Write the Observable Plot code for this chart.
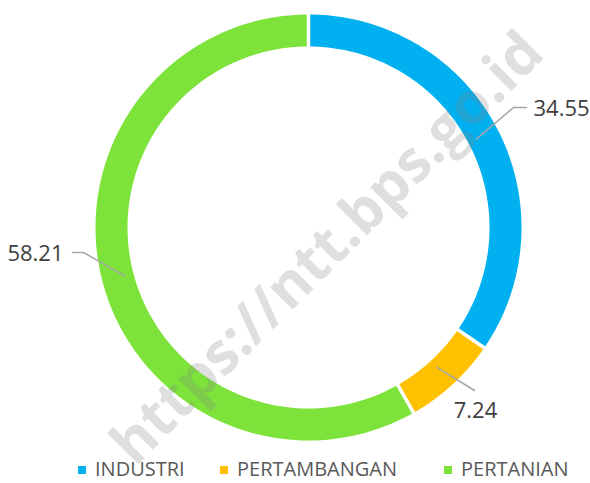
<!DOCTYPE html>
<html>
<head>
<meta charset="utf-8">
<script src="https://cdn.jsdelivr.net/npm/d3@7"></script>
<script src="https://cdn.jsdelivr.net/npm/@observablehq/plot@0.6"></script>
<style>
  html, body { margin: 0; padding: 0; background: #fff; }
  #wrap { position: relative; width: 590px; height: 483px; }
  #legend { position: absolute; left: 0; top: 0; width: 590px; height: 483px; pointer-events: none;
            font-family: "Open Sans", sans-serif; font-size: 20px; color: #595959; }
  #legend .item { position: absolute; display: flex; align-items: center; line-height: normal; white-space: nowrap; }
  #legend .sw { width: 8px; height: 8px; margin-right: 9px; position: relative; top: 1px; }
</style>
</head>
<body>
<div id="wrap"></div>
<script>
// ---- data ----
const categories = ["INDUSTRI", "PERTAMBANGAN", "PERTANIAN"];
const values = [34.55, 7.24, 58.21];
const labels = ["34.55", "7.24", "58.21"];
const colors = ["#00B0F0", "#FFC000", "#7DE33B"];
const watermark = "https://ntt.bps.go.id";

// ---- layout ----
const W = 590, H = 483;
const cx = 308, cy = 227;
const R0 = 181, R1 = 213;
const px = x => x - cx;          // pixel -> plot coords
const py = y => cy - y;
// label layout (pixels): elbow, end, text position, anchor
const labelLayout = [
  {elbow: [513, 107], end: [526, 107], text: [533, 108], anchor: "start"},
  {elbow: [474, 390], end: [474, 390], text: [475, 410], anchor: "middle"},
  {elbow: [83, 252],  end: [72, 252],  text: [63, 253],  anchor: "end"}
];
const legendLeft = [78, 220, 444];
const legendTop = 455;

const pie = d3.pie().sort(null)(values);
const N = 120;
const pt = (r, a) => ({x: r * Math.sin(a), y: r * Math.cos(a)});

const slices = pie.map((p, i) => {
  const pts = [];
  for (let k = 0; k <= N; k++) pts.push(pt(R1, p.startAngle + (p.endAngle - p.startAngle) * k / N));
  for (let k = N; k >= 0; k--) pts.push(pt(R0, p.startAngle + (p.endAngle - p.startAngle) * k / N));
  return pts.map(d => ({...d, cat: categories[i]}));
});

const seps = pie.map(p => ({a: pt(R0 - 3, p.startAngle), b: pt(R1 + 3, p.startAngle)}));

const leaders = pie.map((p, i) => {
  const mid = (p.startAngle + p.endAngle) / 2;
  const s = pt(190, mid);
  const L = labelLayout[i];
  return [s, {x: px(L.elbow[0]), y: py(L.elbow[1])}, {x: px(L.end[0]), y: py(L.end[1])}].map(d => ({...d, i}));
}).flat();

const labelData = labels.map((t, i) => ({t, x: px(labelLayout[i].text[0]), y: py(labelLayout[i].text[1]), anchor: labelLayout[i].anchor}));

const chart = Plot.plot({
  width: W, height: H,
  margin: 0,
  x: {domain: [-cx, W - cx], range: [0, W], axis: null},
  y: {domain: [-(H - cy), cy], range: [H, 0], axis: null},
  style: {background: "#fff"},
  marks: [
    ...slices.map((s, i) => Plot.line(s, {x: "x", y: "y", fill: colors[i], stroke: "none", curve: "linear-closed"})),
    Plot.link(seps, {x1: d => d.a.x, y1: d => d.a.y, x2: d => d.b.x, y2: d => d.b.y, stroke: "#fff", strokeWidth: 3.5}),
    Plot.line(leaders, {x: "x", y: "y", z: "i", stroke: "#A6A6A6", strokeWidth: 1.5}),
    ...["start", "middle", "end"].map(a => Plot.text(labelData.filter(d => d.anchor === a), {
      x: "x", y: "y", text: "t", textAnchor: a, fontSize: 22, fill: "#404040",
      fontFamily: "Open Sans"
    })),
    Plot.text([watermark], {x: [px(327)], y: [py(248)], text: d => d, rotate: -45, fontSize: 58, fontWeight: "bold",
      fill: "#808080", fillOpacity: 0.25, fontFamily: "Open Sans"})
  ]
});

const wrap = document.getElementById("wrap");
wrap.appendChild(chart);
const legend = document.createElement("div");
legend.id = "legend";
categories.forEach((c, i) => {
  const it = document.createElement("div");
  it.className = "item";
  it.style.left = legendLeft[i] + "px";
  it.style.top = legendTop + "px";
  const sw = document.createElement("span");
  sw.className = "sw";
  sw.style.background = colors[i];
  const tx = document.createElement("span");
  tx.textContent = c;
  it.appendChild(sw); it.appendChild(tx);
  legend.appendChild(it);
});
wrap.appendChild(legend);
</script>
</body>
</html>
